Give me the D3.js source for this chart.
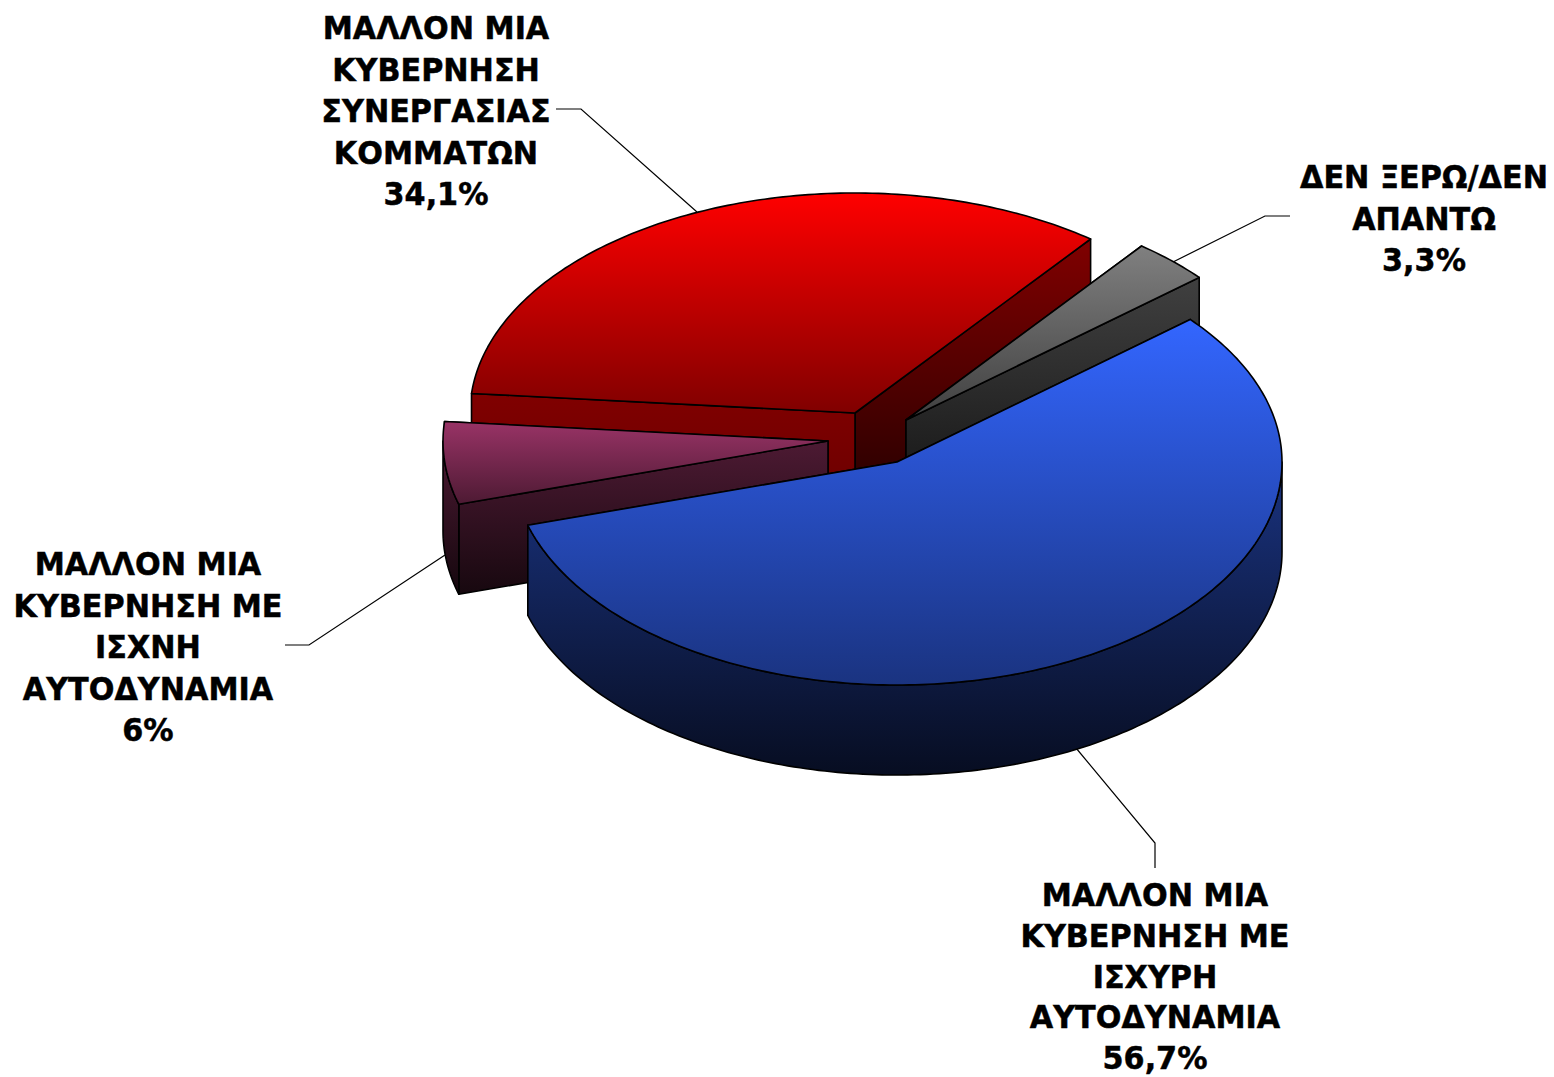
<!DOCTYPE html>
<html>
<head>
<meta charset="utf-8">
<script src="https://cdn.jsdelivr.net/npm/d3@7"></script>
<style>
html, body { margin: 0; background: #fff; }
svg { display: block; }
text { font-family: "DejaVu Sans", sans-serif; font-weight: bold; font-size: 32px; fill: #000; stroke: #000; stroke-width: 0.5px; text-anchor: middle; }
</style>
</head>
<body>
<svg id="chart" width="1554" height="1077"></svg>
<script>
// chart data, clockwise from the start angle
var categories = ["strong", "weak", "coalition", "dontknow"];
var values = [56.7, 6, 34.1, 3.3];
var valueLabels = ["56,7%", "6%", "34,1%", "3,3%"];
var labelLines = [
  ["ΜΑΛΛΟΝ ΜΙΑ", "ΚΥΒΕΡΝΗΣΗ ΜΕ", "ΙΣΧΥΡΗ", "ΑΥΤΟΔΥΝΑΜΙΑ"],
  ["ΜΑΛΛΟΝ ΜΙΑ", "ΚΥΒΕΡΝΗΣΗ ΜΕ", "ΙΣΧΝΗ", "ΑΥΤΟΔΥΝΑΜΙΑ"],
  ["ΜΑΛΛΟΝ ΜΙΑ", "ΚΥΒΕΡΝΗΣΗ", "ΣΥΝΕΡΓΑΣΙΑΣ", "ΚΟΜΜΑΤΩΝ"],
  ["ΔΕΝ ΞΕΡΩ/ΔΕΝ", "ΑΠΑΝΤΩ"]
];

// styling and layout
var colors = ["#3366ff", "#993366", "#ff0000", "#808080"];
var drawOrder = [2, 3, 1, 0];
var centers = [[897, 462], [828, 441], [855, 413], [906, 420]];
var labelAnchors = [[1155, 906], [148, 575], [436, 39], [1424, 188]];
var lineHeights = [40.8, 41.6, 41.6, 41.6]; // bottom label has to fit the page
var leaders = [
  [[1155, 868], [1155, 843], [1076, 748]],
  [[285, 645], [309, 645], [445, 555]],
  [[556, 109], [581, 109], [697, 212]],
  [[1290, 216], [1265, 216], [1173, 262]]
];
var startWallFade = [0.15, 0.15, 0.42, 0.15];
var rx = 385, ryBack = 220, ryFront = 223, depth = 90;
var widthRatio = 0.945;

var svg = d3.select("#chart");
var defs = svg.append("defs");

var pie = d3.pie().sort(null)
  .startAngle(49.6 * Math.PI / 180)
  .endAngle(409.6 * Math.PI / 180);
var arcs = pie(values);

var sx = d3.scaleLinear().domain([-1, 1]).range([-rx, rx]);
var sy = d3.scaleLinear().domain([-1, 0, 1]).range([-ryBack, 0, ryFront]);
var line = d3.line();

function rimPoint(c, t, drop) {
  return [c[0] + sx(Math.sin(t)), c[1] + sy(-Math.cos(t)) + (drop || 0)];
}
function arcPoints(c, a0, a1, drop) {
  var n = Math.max(2, Math.ceil((a1 - a0) * 60));
  return d3.range(n + 1).map(function(k) {
    return rimPoint(c, a0 + (a1 - a0) * k / n, drop);
  });
}
function shade(color, f) {
  return d3.interpolateRgb("#000", color)(f);
}
var gradCount = 0;
function gradient(pts, color, f0, f1) {
  var id = "g" + (gradCount++);
  var ys = d3.extent(pts, function(p) { return p[1]; });
  var g = defs.append("linearGradient").attr("id", id)
    .attr("gradientUnits", "userSpaceOnUse")
    .attr("x1", 0).attr("x2", 0).attr("y1", ys[0]).attr("y2", ys[1]);
  g.append("stop").attr("offset", 0).attr("stop-color", shade(color, f0));
  g.append("stop").attr("offset", 1).attr("stop-color", shade(color, f1));
  return "url(#" + id + ")";
}
function shape(pts, fill) {
  svg.append("path")
    .attr("d", line(pts) + "Z")
    .attr("fill", fill)
    .attr("stroke", "#000")
    .attr("stroke-width", 1.6)
    .attr("stroke-linejoin", "round");
}

// leader lines sit under the slices
svg.selectAll(".leader").data(leaders).enter().append("path")
  .attr("class", "leader")
  .attr("d", function(d) { return line(d); })
  .attr("fill", "none")
  .attr("stroke", "#000")
  .attr("stroke-width", 1.2);

drawOrder.forEach(function(i) {
  var d = arcs[i], c = centers[i], col = colors[i];

  // radial walls, the one reaching lower on screen goes last
  var walls = [
    { t: d.startAngle, fade: startWallFade[i] },
    { t: d.endAngle, fade: 0.15 }
  ].sort(function(a, b) { return rimPoint(c, a.t)[1] - rimPoint(c, b.t)[1]; });
  walls.forEach(function(w) {
    var p = rimPoint(c, w.t);
    var pts = [c, p, [p[0], p[1] + depth], [c[0], c[1] + depth]];
    shape(pts, gradient(pts, col, 0.5, w.fade));
  });

  // outer rim only where it faces the viewer
  var a0 = Math.max(d.startAngle, Math.PI / 2);
  var a1 = Math.min(d.endAngle, 3 * Math.PI / 2);
  if (a1 > a0) {
    var top = arcPoints(c, a0, a1, 0);
    var bottom = arcPoints(c, a0, a1, depth).reverse();
    var rim = top.concat(bottom);
    var rimBox = rim.concat([c]);
    shape(rim, gradient(rimBox, col, 0.5, 0.13));
  }

  // top face
  var face = [c].concat(arcPoints(c, d.startAngle, d.endAngle, 0));
  shape(face, gradient(face, col, 1, 0.5));
});

// labels, one text per line with the value as the last line
categories.forEach(function(name, i) {
  var lines = labelLines[i].concat([valueLabels[i]]);
  lines.forEach(function(s, k) {
    svg.append("text")
      .attr("class", "label-" + name)
      .attr("transform", "translate(" + labelAnchors[i][0] + "," + (labelAnchors[i][1] + k * lineHeights[i]) + ") scale(" + widthRatio + ",1)")
      .text(s);
  });
});
</script>
</body>
</html>
